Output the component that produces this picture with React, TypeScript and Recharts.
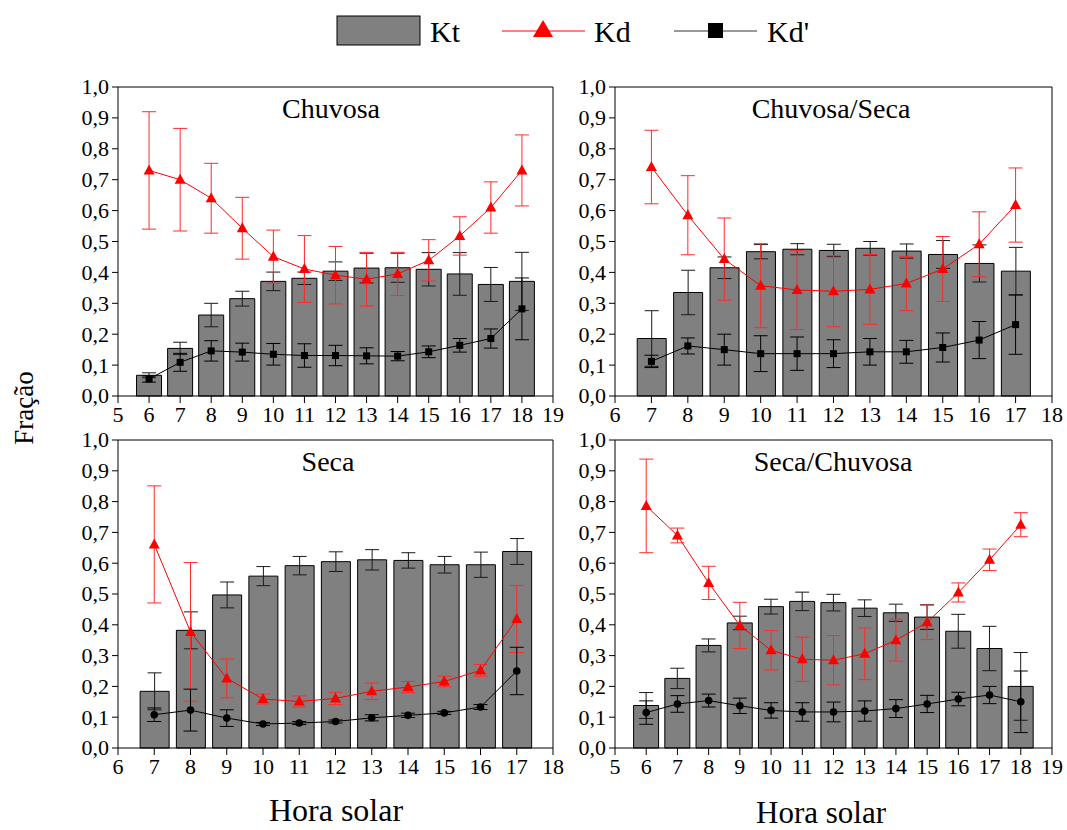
import React from "react"
import { Bar, ComposedChart, ErrorBar, Line, XAxis, YAxis } from "recharts"

const serif = '"Liberation Serif", "Times New Roman", serif'
const serifStyle = { fontFamily: serif }

// Hora solar
const hoursWide = [6, 7, 8, 9, 10, 11, 12, 13, 14, 15, 16, 17, 18]
const hoursNarrow = [7, 8, 9, 10, 11, 12, 13, 14, 15, 16, 17]

const ticksWide = [5, 6, 7, 8, 9, 10, 11, 12, 13, 14, 15, 16, 17, 18, 19]
const ticksNarrow = [6, 7, 8, 9, 10, 11, 12, 13, 14, 15, 16, 17, 18]
const yTicks = [0, 0.1, 0.2, 0.3, 0.4, 0.5, 0.6, 0.7, 0.8, 0.9, 1.0]

// Chuvosa
const chuvosaKt = [0.067, 0.154, 0.262, 0.315, 0.371, 0.381, 0.404, 0.414, 0.415, 0.41, 0.395, 0.361, 0.371]
const chuvosaKtErr = [0.008, 0.02, 0.038, 0.024, 0.03, 0.02, 0.03, 0.048, 0.047, 0.054, 0.069, 0.055, 0.094]
const chuvosaKd = [0.73, 0.7, 0.64, 0.543, 0.451, 0.411, 0.391, 0.378, 0.395, 0.439, 0.518, 0.61, 0.73]
const chuvosaKdErr = [0.19, 0.166, 0.113, 0.1, 0.086, 0.108, 0.093, 0.087, 0.07, 0.067, 0.062, 0.083, 0.115]
const chuvosaKdp = [0.055, 0.109, 0.146, 0.142, 0.135, 0.131, 0.131, 0.13, 0.129, 0.143, 0.164, 0.186, 0.282]
const chuvosaKdpErr = [0.01, 0.029, 0.033, 0.029, 0.035, 0.038, 0.033, 0.026, 0.015, 0.019, 0.022, 0.031, 0.1]

// Chuvosa/Seca
const chuvSecaKt = [0.186, 0.335, 0.415, 0.467, 0.475, 0.471, 0.478, 0.469, 0.458, 0.429, 0.404]
const chuvSecaKtErr = [0.09, 0.072, 0.035, 0.023, 0.018, 0.02, 0.022, 0.023, 0.045, 0.06, 0.077]
const chuvSecaKd = [0.741, 0.585, 0.443, 0.357, 0.343, 0.339, 0.345, 0.364, 0.411, 0.491, 0.618]
const chuvSecaKdErr = [0.119, 0.128, 0.133, 0.136, 0.128, 0.115, 0.113, 0.088, 0.105, 0.105, 0.12]
const chuvSecaKdp = [0.112, 0.162, 0.15, 0.137, 0.137, 0.137, 0.143, 0.143, 0.157, 0.181, 0.231]
const chuvSecaKdpErr = [0.02, 0.026, 0.05, 0.058, 0.054, 0.045, 0.043, 0.037, 0.047, 0.06, 0.096]

// Seca
const secaKt = [0.184, 0.382, 0.497, 0.558, 0.592, 0.605, 0.611, 0.609, 0.595, 0.595, 0.638]
const secaKtErr = [0.06, 0.06, 0.042, 0.031, 0.03, 0.032, 0.033, 0.025, 0.027, 0.041, 0.042]
const secaKd = [0.661, 0.377, 0.226, 0.159, 0.151, 0.161, 0.184, 0.198, 0.216, 0.252, 0.419]
const secaKdErr = [0.19, 0.225, 0.063, 0.016, 0.018, 0.02, 0.027, 0.018, 0.017, 0.019, 0.109]
const secaKdp = [0.108, 0.123, 0.097, 0.078, 0.081, 0.086, 0.098, 0.106, 0.114, 0.133, 0.25]
const secaKdpErr = [0.022, 0.068, 0.027, 0.005, 0.005, 0.005, 0.01, 0.007, 0.005, 0.008, 0.077]

// Seca/Chuvosa
const secaChuvKt = [0.138, 0.226, 0.333, 0.406, 0.459, 0.476, 0.472, 0.454, 0.439, 0.425, 0.379, 0.323, 0.2]
const secaChuvKtErr = [0.042, 0.033, 0.021, 0.022, 0.024, 0.03, 0.027, 0.027, 0.028, 0.04, 0.055, 0.072, 0.11]
const secaChuvKd = [0.786, 0.69, 0.536, 0.398, 0.317, 0.288, 0.285, 0.306, 0.35, 0.408, 0.505, 0.611, 0.725]
const secaChuvKdErr = [0.152, 0.024, 0.054, 0.075, 0.064, 0.072, 0.08, 0.084, 0.068, 0.056, 0.031, 0.035, 0.039]
const secaChuvKdp = [0.115, 0.143, 0.154, 0.137, 0.122, 0.117, 0.117, 0.12, 0.128, 0.143, 0.159, 0.172, 0.15]
const secaChuvKdpErr = [0.038, 0.027, 0.021, 0.025, 0.025, 0.03, 0.032, 0.033, 0.029, 0.028, 0.022, 0.028, 0.1]

const fmt = (v: number) => v.toFixed(1).replace(".", ",")

// axis labels drawn by hand so the serif face sticks
const XTick = (p: any) => (
  <text x={p.x} y={p.y} dy="0.76em" textAnchor="middle" style={serifStyle} fontSize={22} fill="#000">
    {p.payload.value}
  </text>
)
const YTick = (p: any) => (
  <text x={p.x} y={p.y} dy="0.34em" textAnchor="end" style={serifStyle} fontSize={22} fill="#000">
    {fmt(p.payload.value)}
  </text>
)

const triangle = (p: any) => (
  <path
    key={`kd-${p.index}`}
    d={`M${p.cx},${p.cy - 6}L${p.cx + 5.5},${p.cy + 4}L${p.cx - 5.5},${p.cy + 4}Z`}
    fill="#ff0000"
  />
)
const square = (p: any) => <rect key={`sq-${p.index}`} x={p.cx - 3.5} y={p.cy - 3.5} width={7} height={7} fill="#000" />
const circle = (p: any) => <circle key={`ci-${p.index}`} cx={p.cx} cy={p.cy} r={3.8} fill="#000" />

type PanelProps = {
  hours: number[]
  kt: number[]
  ktErr: number[]
  kd: number[]
  kdErr: number[]
  kdp: number[]
  kdpErr: number[]
  xTicks: number[]
  plotX: number
  plotY: number
  plotW: number
  plotH: number
  barSize: number
  dot: (p: any) => React.ReactElement
}

function Panel(props: PanelProps) {
  const { hours, xTicks, plotX, plotY, plotW, plotH, barSize } = props
  const data = hours.map((h, i) => ({
    h,
    kt: props.kt[i],
    ktErr: props.ktErr[i],
    kd: props.kd[i],
    kdErr: props.kdErr[i],
    kdp: props.kdp[i],
    kdpErr: props.kdpErr[i],
  }))
  const domain = [xTicks[0], xTicks[xTicks.length - 1]]
  return (
    <div style={{ position: "absolute", left: plotX - 60, top: plotY - 20, fontFamily: serif }}>
      <ComposedChart
        width={plotW + 80}
        height={plotH + 60}
        data={data}
        margin={{ top: 19, right: 15, bottom: 0, left: 0 }}
        style={serifStyle}
      >
        <XAxis
          dataKey="h"
          type="number"
          domain={domain}
          ticks={xTicks}
          interval={0}
          height={40}
          tickSize={7}
          tickMargin={2}
          stroke="#000"
          tick={XTick}
        />
        <XAxis xAxisId="top" orientation="top" type="number" domain={domain} height={1} tick={false} tickLine={false} stroke="#000" />
        <YAxis
          type="number"
          domain={[0, 1]}
          ticks={yTicks}
          interval={0}
          width={60}
          tickSize={6}
          tickMargin={3}
          stroke="#000"
          tick={YTick}
        />
        <YAxis
          yAxisId="right"
          orientation="right"
          type="number"
          domain={[0, 1]}
          ticks={yTicks}
          interval={0}
          width={5}
          tickSize={4}
          tickFormatter={() => ""}
          stroke="#000"
        />
        <Bar dataKey="kt" fill="#808080" stroke="#000" strokeWidth={1} barSize={barSize} isAnimationActive={false}>
          <ErrorBar dataKey="ktErr" width={7} stroke="#1a1a1a" strokeWidth={1} />
        </Bar>
        <Line dataKey="kd" stroke="#ff0000" strokeWidth={1} dot={triangle} activeDot={false} isAnimationActive={false}>
          <ErrorBar dataKey="kdErr" width={7} stroke="#ff2a2a" strokeWidth={1} />
        </Line>
        <Line dataKey="kdp" stroke="#000" strokeWidth={1} dot={props.dot} activeDot={false} isAnimationActive={false}>
          <ErrorBar dataKey="kdpErr" width={7} stroke="#000" strokeWidth={1} />
        </Line>
      </ComposedChart>
    </div>
  )
}

export default function App() {
  return (
    <div style={{ position: "absolute", left: 0, top: 0, width: 1067, height: 830, background: "#fff", fontFamily: serif }}>
      <Panel
        hours={hoursWide}
        kt={chuvosaKt}
        ktErr={chuvosaKtErr}
        kd={chuvosaKd}
        kdErr={chuvosaKdErr}
        kdp={chuvosaKdp}
        kdpErr={chuvosaKdpErr}
        xTicks={ticksWide}
        plotX={118}
        plotY={87}
        plotW={435}
        plotH={309}
        barSize={25}
        dot={square}
      />
      <Panel
        hours={hoursNarrow}
        kt={chuvSecaKt}
        ktErr={chuvSecaKtErr}
        kd={chuvSecaKd}
        kdErr={chuvSecaKdErr}
        kdp={chuvSecaKdp}
        kdpErr={chuvSecaKdpErr}
        xTicks={ticksNarrow}
        plotX={615}
        plotY={87}
        plotW={437}
        plotH={309}
        barSize={29}
        dot={square}
      />
      <Panel
        hours={hoursNarrow}
        kt={secaKt}
        ktErr={secaKtErr}
        kd={secaKd}
        kdErr={secaKdErr}
        kdp={secaKdp}
        kdpErr={secaKdpErr}
        xTicks={ticksNarrow}
        plotX={118}
        plotY={440}
        plotW={435}
        plotH={308}
        barSize={29}
        dot={circle}
      />
      <Panel
        hours={hoursWide}
        kt={secaChuvKt}
        ktErr={secaChuvKtErr}
        kd={secaChuvKd}
        kdErr={secaChuvKdErr}
        kdp={secaChuvKdp}
        kdpErr={secaChuvKdpErr}
        xTicks={ticksWide}
        plotX={615}
        plotY={440}
        plotW={437}
        plotH={308}
        barSize={25}
        dot={circle}
      />

      {/* titles, axis names and the shared legend */}
      <svg width={1067} height={830} style={{ position: "absolute", left: 0, top: 0, pointerEvents: "none", fontFamily: serif }}>
        <g fontSize={28} textAnchor="middle" fill="#000">
          <text x={331} y={118}>Chuvosa</text>
          <text x={831} y={118}>Chuvosa/Seca</text>
          <text x={328} y={471}>Seca</text>
          <text x={833} y={471}>Seca/Chuvosa</text>
        </g>
        <text transform="translate(33,408) rotate(-90)" textAnchor="middle" fontSize={27}>Fração</text>
        <text x={336} y={821} textAnchor="middle" fontSize={32}>Hora solar</text>
        <text x={821} y={823} textAnchor="middle" fontSize={31}>Hora solar</text>

        <rect x={337} y={16} width={83} height={29} fill="#808080" stroke="#000" strokeWidth={1} />
        <text x={430} y={42} fontSize={30}>Kt</text>
        <line x1={502} y1={31} x2={585} y2={31} stroke="#ff0000" strokeWidth={1} />
        <path d="M543,20L553,37L533,37Z" fill="#ff0000" />
        <text x={594} y={42} fontSize={30}>Kd</text>
        <line x1={674} y1={31} x2={757} y2={31} stroke="#333" strokeWidth={1} />
        <rect x={708} y={23} width={15} height={15} fill="#000" />
        <text x={767} y={42} fontSize={30}>Kd'</text>
      </svg>
    </div>
  )
}
